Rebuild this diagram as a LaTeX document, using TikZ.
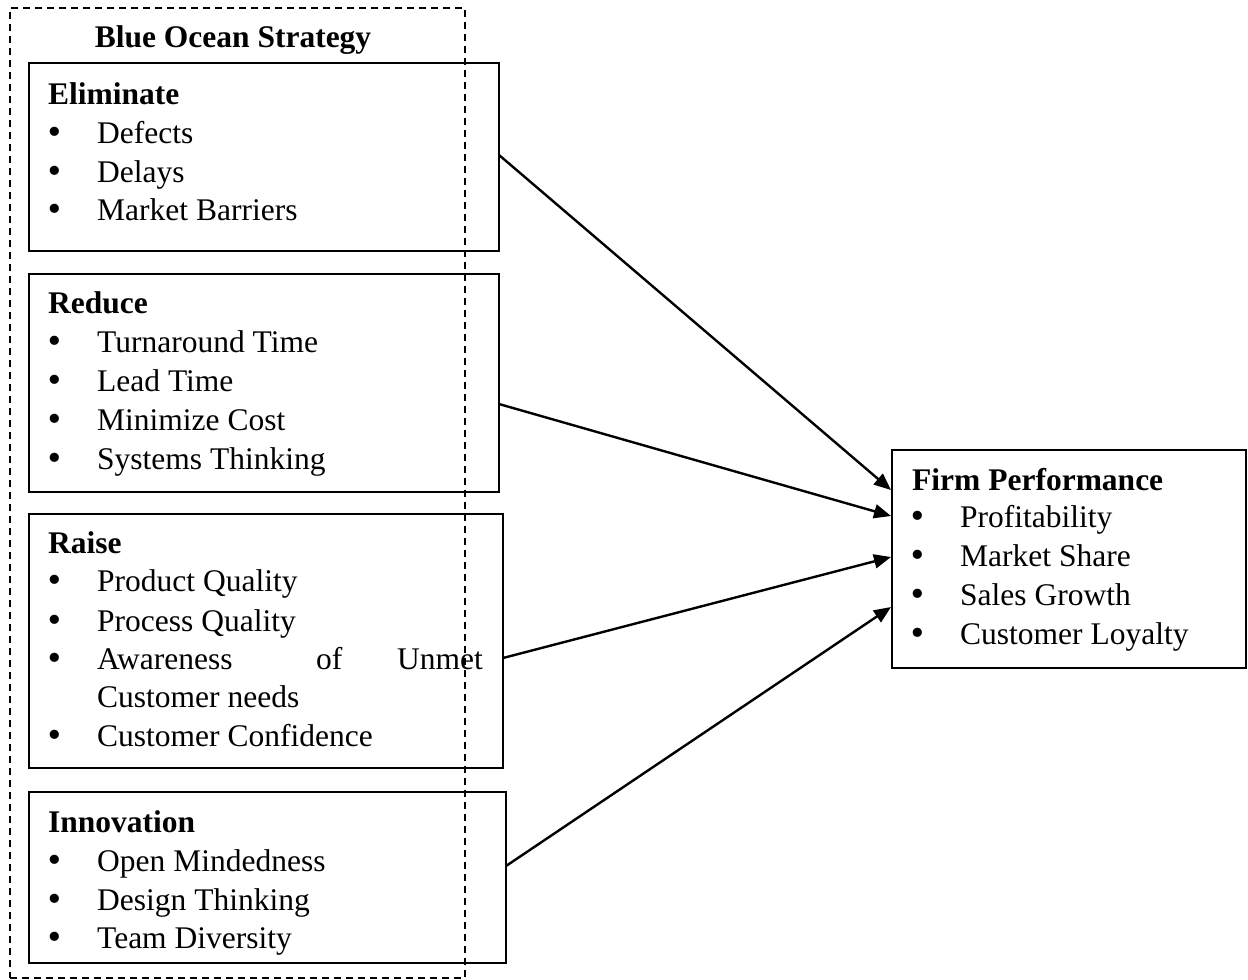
\documentclass[tikz,border=0pt]{standalone}
\usepackage{fontspec}
\setmainfont{Liberation Serif}
\newfontfamily\bulletfont{DejaVu Sans}
\usetikzlibrary{arrows.meta,calc}
% one bulleted entry: name, bullet x, text x, baseline y, text
\newcommand{\bitem}[5]{%
  \node[dot] (#1d) at (#2,#4) {•};
  \node[txt] (#1) at (#3,#4) {#5};}
\begin{document}
\begin{tikzpicture}[x=1pt,y=-1pt,
  box/.style={draw, line width=1.8pt, rectangle, anchor=north west, inner sep=0pt, outer sep=0pt},
  frame/.style={draw, line width=1.3pt, dash pattern=on 7pt off 5pt, rectangle, anchor=north west, inner sep=0pt, outer sep=0pt},
  txt/.style={anchor=base west, inner sep=0pt, font=\fontsize{31.5}{38}\selectfont},
  head/.style={anchor=base west, inner sep=0pt, font=\fontsize{31.5}{38}\selectfont\bfseries},
  dot/.style={anchor=base, inner sep=0pt, font=\bulletfont\fontsize{31.5}{38}\selectfont},
  link/.style={line width=2.4pt, -{Triangle[length=17pt,width=14pt]}}]
\useasboundingbox (0,0) rectangle (1248,980);

% group frame and title
\node[frame, minimum width=455pt, minimum height=970pt] (bos) at (10,8) {};
\node[head, anchor=base] (bostitle) at (233,47) {Blue Ocean Strategy};

% Eliminate
\node[box, minimum width=470pt, minimum height=188pt] (elim) at (29,63) {};
\node[head] (elimh) at (48,104) {Eliminate};
\bitem{e1}{55}{97}{143}{Defects}
\bitem{e2}{55}{97}{182}{Delays}
\bitem{e3}{55}{97}{220}{Market Barriers}

% Reduce
\node[box, minimum width=470pt, minimum height=218pt] (reduce) at (29,274) {};
\node[head] (reduceh) at (48,313) {Reduce};
\bitem{r1}{55}{97}{352}{Turnaround Time}
\bitem{r2}{55}{97}{391}{Lead Time}
\bitem{r3}{55}{97}{430}{Minimize Cost}
\bitem{r4}{55}{97}{469}{Systems Thinking}

% Raise
\node[box, minimum width=474pt, minimum height=254pt] (raise) at (29,514) {};
\node[head] (raiseh) at (48,553) {Raise};
\bitem{a1}{55}{97}{591}{Product Quality}
\bitem{a2}{55}{97}{631}{Process Quality}
\node[dot] (a3d) at (55,669) {•};
\node[txt] (a3) at (97,669) {Awareness};
\node[txt] (a3b) at (316,669) {of};
\node[txt, anchor=base east] (a3c) at (483,669) {Unmet};
\node[txt] (a3e) at (97,707) {Customer needs};
\bitem{a4}{55}{97}{746}{Customer Confidence}

% Innovation
\node[box, minimum width=477pt, minimum height=171pt] (innov) at (29,792) {};
\node[head] (innovh) at (48,832) {Innovation};
\bitem{i1}{55}{97}{871}{Open Mindedness}
\bitem{i2}{55}{97}{910}{Design Thinking}
\bitem{i3}{55}{97}{948}{Team Diversity}

% Firm Performance
\node[box, minimum width=354pt, minimum height=218pt] (firm) at (892,450) {};
\node[head] (firmh) at (912,490) {Firm Performance};
\bitem{f1}{918}{960}{527}{Profitability}
\bitem{f2}{918}{960}{566}{Market Share}
\bitem{f3}{918}{960}{605}{Sales Growth}
\bitem{f4}{918}{960}{644}{Customer Loyalty}

% links into Firm Performance
\draw[link] ($(elim.east)+(0,-2)$) -- ($(firm.west)+(-1,-69)$);
\draw[link] ($(reduce.east)+(0,21)$) -- ($(firm.west)+(-1,-43)$);
\draw[link] ($(raise.east)+(0,17)$) -- ($(firm.west)+(-1,-2)$);
\draw[link] ($(innov.east)+(0,-11.5)$) -- ($(firm.west)+(-1,48)$);
\end{tikzpicture}
\end{document}
